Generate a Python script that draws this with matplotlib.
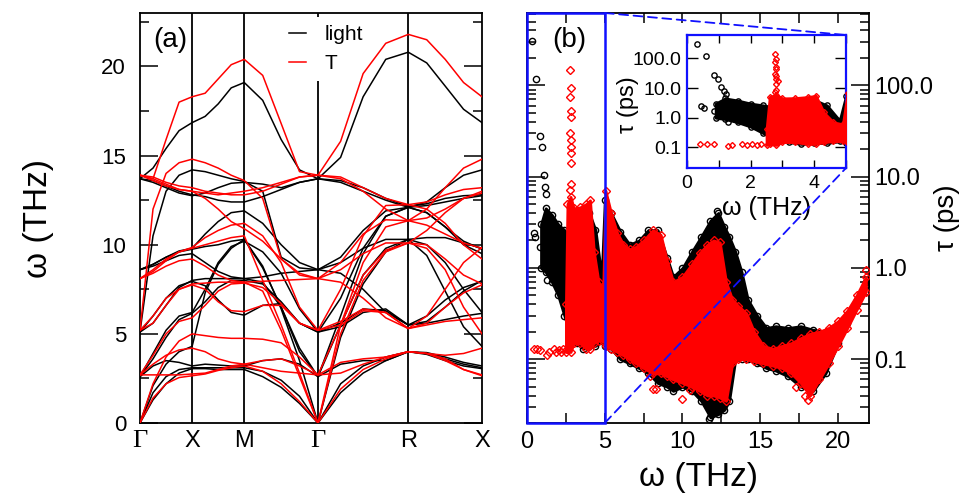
import matplotlib
matplotlib.use("Agg")
import matplotlib.pyplot as plt
from matplotlib.patches import Rectangle, ConnectionPatch
from matplotlib.ticker import MultipleLocator, FixedLocator, FixedFormatter, LogLocator, NullFormatter

plt.rcParams['font.family'] = ['Liberation Sans', 'DejaVu Sans']

# ---- panel (a): phonon dispersion along G-X-M-G-R-X ----
k_nodes = [0.0, 0.5, 1.0, 1.707, 2.573, 3.280]
k_labels = ['Γ', 'X', 'M', 'Γ', 'R', 'X']
k_path = [0.0, 0.125, 0.25, 0.375, 0.5,
          0.625, 0.75, 0.875, 1.0,
          1.177, 1.354, 1.530, 1.707,
          1.924, 2.140, 2.357, 2.573,
          2.750, 2.927, 3.103, 3.280]

bands_light = [
    [0.0, 1.3, 2.2, 2.8, 3.05, 3.05, 3.0, 3.0, 3.0, 2.6, 2.0, 1.1, 0.0, 1.7, 2.8, 3.5, 4.0, 3.85, 3.5, 3.2, 3.05],
    [0.0, 1.7, 2.6, 3.0, 3.1, 3.1, 3.1, 3.1, 3.1, 2.9, 2.4, 1.5, 0.0, 2.2, 3.2, 3.7, 4.0, 3.9, 3.6, 3.3, 3.1],
    [0.0, 2.1, 3.3, 4.0, 4.3, 7.3, 8.9, 9.8, 10.3, 8.8, 6.4, 3.5, 0.0, 4.8, 7.8, 9.6, 10.3, 9.4, 7.4, 5.4, 4.3],
    [2.6, 3.2, 3.5, 3.4, 3.2, 3.3, 3.25, 3.2, 3.2, 3.5, 3.6, 3.3, 2.6, 3.3, 3.5, 3.5, 4.0, 3.95, 3.7, 3.4, 3.2],
    [2.6, 3.6, 4.8, 5.8, 6.15, 6.8, 7.6, 8.0, 8.0, 7.8, 6.8, 5.6, 5.1, 5.6, 6.4, 6.3, 5.5, 5.6, 5.8, 6.0, 6.15],
    [2.6, 3.9, 5.2, 6.0, 6.2, 7.5, 9.0, 9.9, 10.2, 9.6, 8.4, 6.4, 5.1, 5.4, 6.2, 6.4, 5.5, 6.0, 6.9, 7.6, 7.95],
    [5.1, 6.0, 7.0, 7.7, 7.95, 7.7, 6.9, 6.2, 6.05, 6.6, 6.7, 5.6, 5.1, 7.0, 9.8, 11.6, 12.1, 11.8, 11.0, 10.0, 9.5],
    [5.1, 5.6, 6.6, 7.6, 8.0, 8.1, 8.1, 8.1, 8.1, 7.9, 6.5, 4.0, 2.6, 5.5, 8.3, 9.8, 10.3, 10.0, 9.0, 7.5, 6.2],
    [5.1, 10.5, 13.0, 13.9, 14.2, 14.1, 13.9, 13.7, 13.55, 13.0, 9.3, 8.7, 8.6, 9.3, 10.8, 11.9, 12.1, 12.4, 13.2, 13.9, 14.2],
    [8.6, 8.8, 9.1, 9.4, 9.5, 9.0, 8.5, 8.2, 8.1, 8.2, 8.4, 8.5, 8.6, 8.4, 7.5, 6.2, 5.5, 5.7, 6.5, 7.4, 8.0],
    [8.6, 8.9, 9.3, 9.6, 9.75, 9.9, 10.0, 10.2, 10.3, 8.7, 6.5, 4.2, 2.6, 6.0, 9.5, 11.6, 12.1, 11.8, 11.0, 10.2, 9.75],
    [8.6, 8.9, 9.3, 9.65, 9.8, 10.6, 11.3, 11.8, 11.9, 11.2, 10.0, 9.0, 8.6, 9.0, 9.8, 10.3, 10.3, 10.4, 10.4, 10.1, 9.8],
    [13.7, 13.5, 13.2, 12.9, 12.75, 12.9, 13.2, 13.45, 13.5, 13.4, 13.2, 13.5, 13.7, 13.5, 13.0, 12.5, 12.1, 12.2, 12.4, 12.6, 12.75],
    [13.7, 13.6, 13.3, 13.0, 12.8, 12.7, 12.5, 12.4, 12.4, 12.7, 13.1, 13.5, 13.7, 13.6, 13.2, 12.6, 12.15, 12.3, 12.6, 12.75, 12.8],
    [13.7, 14.3, 15.4, 16.4, 16.85, 17.2, 17.9, 18.8, 19.1, 18.1, 15.9, 14.2, 13.7, 14.9, 18.3, 20.4, 20.8, 20.2, 18.9, 17.6, 16.85],
]

bands_T = [
    [0.0, 1.4, 2.2, 2.55, 2.65, 2.75, 2.95, 3.1, 3.2, 2.9, 2.2, 1.2, 0.0, 1.9, 3.0, 3.6, 4.0, 3.9, 3.5, 3.0, 2.65],
    [2.7, 2.7, 2.7, 2.7, 2.75, 2.8, 3.0, 3.2, 3.3, 3.1, 2.9, 2.8, 2.7, 2.8, 3.3, 3.7, 4.0, 3.9, 3.6, 3.0, 2.7],
    [0.0, 2.2, 3.7, 4.6, 5.0, 4.9, 4.8, 4.75, 4.75, 4.7, 4.5, 3.7, 2.7, 5.5, 8.3, 9.7, 10.1, 9.8, 8.6, 6.5, 5.0],
    [2.7, 3.3, 3.8, 4.1, 4.2, 4.0, 3.6, 3.4, 3.3, 3.5, 3.6, 3.2, 2.7, 3.4, 3.6, 3.7, 4.0, 3.9, 3.8, 3.9, 4.2],
    [2.7, 3.8, 5.0, 5.7, 5.9, 6.6, 7.4, 7.8, 7.85, 7.6, 6.7, 5.6, 5.2, 5.7, 6.4, 6.2, 5.3, 5.5, 5.7, 5.8, 5.9],
    [5.2, 6.0, 7.0, 7.5, 7.75, 7.5, 6.8, 6.3, 6.25, 6.6, 6.6, 5.6, 5.2, 7.5, 10.5, 12.2, 12.25, 12.0, 11.2, 10.0, 9.2],
    [5.2, 5.6, 6.6, 7.5, 7.8, 7.85, 7.9, 7.9, 7.9, 7.4, 5.2, 2.6, 0.0, 5.0, 8.0, 9.6, 10.1, 10.0, 9.2, 8.3, 7.8],
    [5.2, 12.0, 14.0, 14.6, 14.8, 14.6, 14.3, 13.9, 13.6, 12.6, 9.2, 8.3, 8.1, 9.0, 10.6, 11.4, 11.35, 12.0, 13.2, 14.3, 14.8],
    [8.1, 8.4, 8.8, 9.1, 9.2, 8.8, 8.3, 8.0, 7.9, 7.95, 8.0, 8.05, 8.1, 7.9, 7.0, 5.9, 5.3, 5.6, 6.5, 7.3, 7.75],
    [8.1, 8.6, 9.2, 9.6, 9.8, 10.0, 10.2, 10.4, 10.5, 8.0, 5.5, 2.8, 0.0, 5.5, 9.0, 11.0, 11.35, 11.1, 10.6, 10.1, 9.8],
    [8.1, 8.5, 9.1, 9.6, 9.85, 10.4, 10.8, 11.1, 11.2, 10.5, 9.0, 6.5, 5.2, 5.5, 6.3, 6.2, 5.3, 6.0, 7.5, 9.0, 9.85],
    [13.9, 13.7, 13.4, 13.1, 13.0, 12.6, 12.0, 11.3, 10.9, 10.2, 9.2, 8.4, 8.1, 8.6, 9.5, 10.1, 10.1, 10.8, 11.8, 12.6, 13.0],
    [13.9, 13.8, 13.5, 13.3, 13.2, 13.0, 12.9, 12.8, 12.8, 13.0, 13.4, 13.8, 13.9, 13.8, 13.2, 12.6, 12.25, 12.4, 12.8, 13.1, 13.2],
    [13.9, 13.6, 13.3, 13.1, 13.0, 12.9, 12.8, 12.9, 13.0, 13.2, 13.5, 13.8, 13.9, 13.7, 13.0, 12.0, 11.35, 11.5, 12.0, 12.6, 12.9],
    [13.9, 13.7, 15.9, 18.0, 18.3, 18.5, 19.3, 20.1, 20.4, 19.5, 16.8, 14.1, 13.9, 15.8, 19.6, 21.3, 21.8, 21.5, 20.4, 19.1, 18.3],
]

# ---- panel (b): lifetimes, clouds given by lower/upper envelopes ----
blk_w = [0.9, 1.2, 1.6, 2.0, 2.4, 2.8, 3.2, 3.6, 4.0, 4.4, 4.8, 5.0, 5.4, 6.0, 6.6, 7.2, 7.8, 8.4,
         9.0, 9.4, 10.0, 10.6, 11.2, 11.8, 12.3, 12.7, 13.0, 13.4, 13.8, 14.2, 14.8, 15.4, 16.0,
         16.8, 17.6, 18.4, 19.2, 20.0, 20.6, 21.2, 21.8]
blk_hi = [3.0, 4.5, 3.8, 3.0, 2.6, 2.2, 1.8, 2.5, 4.0, 2.6, 0.8, 5.5, 4.0, 2.5, 1.8, 2.0, 2.6, 2.6,
          1.3, 0.8, 1.0, 1.5, 2.2, 3.3, 4.0, 2.8, 2.2, 1.5, 0.9, 0.45, 0.3, 0.22, 0.23,
          0.22, 0.23, 0.21, 0.2, 0.23, 0.3, 0.45, 0.7]
blk_lo = [1.0, 0.9, 0.7, 0.5, 0.3, 0.18, 0.15, 0.13, 0.14, 0.14, 0.16, 0.14, 0.13, 0.1, 0.09, 0.08, 0.07, 0.055,
          0.05, 0.045, 0.05, 0.045, 0.035, 0.023, 0.025, 0.028, 0.035, 0.1, 0.1, 0.1, 0.09, 0.08, 0.075,
          0.065, 0.05, 0.045, 0.07, 0.15, 0.25, 0.4, 0.65]

red_w = [2.5, 2.6, 2.8, 3.0, 3.4, 3.8, 4.05, 4.3, 4.6, 4.9, 5.05, 5.4, 5.8, 6.2, 6.6, 7.0, 7.5, 8.1,
         8.6, 9.0, 9.4, 10.0, 10.6, 11.1, 11.6, 12.0, 12.4, 12.8, 13.2, 13.6, 14.1, 14.6, 15.2,
         15.8, 16.4, 17.0, 17.6, 18.2, 18.8, 19.4, 20.0, 20.6, 21.2, 21.8]
red_hi = [0.4, 5.0, 6.0, 4.5, 4.6, 5.0, 5.5, 1.5, 0.7, 0.6, 7.0, 4.0, 2.4, 1.8, 1.6, 1.7, 2.0, 2.6,
          2.3, 1.2, 0.7, 0.8, 1.1, 1.45, 1.8, 2.0, 1.9, 0.7, 0.45, 0.38, 0.32, 0.2, 0.14,
          0.13, 0.14, 0.15, 0.17, 0.19, 0.2, 0.22, 0.26, 0.34, 0.5, 0.8]
red_lo = [0.12, 0.13, 0.12, 0.15, 0.15, 0.13, 0.13, 0.15, 0.16, 0.16, 0.14, 0.13, 0.12, 0.11, 0.1, 0.09, 0.08, 0.07,
          0.07, 0.065, 0.06, 0.055, 0.05, 0.045, 0.04, 0.04, 0.038, 0.035, 0.09, 0.1, 0.1, 0.095, 0.09,
          0.085, 0.08, 0.07, 0.055, 0.04, 0.06, 0.09, 0.14, 0.22, 0.35, 0.55]

# isolated points
blk_pts_w = [0.32, 0.6, 0.85, 0.96, 1.07, 1.17, 1.24, 0.43, 0.53, 0.85, 1.28, 12.2, 11.7]
blk_pts_t = [305, 118, 28, 21, 10.5, 7.7, 6.5, 2.4, 2.2, 1.7, 0.74, 4.2, 0.022]
red_pts_w = [2.78, 2.8, 2.78, 2.8, 2.8, 2.78, 2.8, 2.8, 2.85, 2.8, 2.8, 2.78,
             0.42, 0.62, 0.85, 1.3, 1.42, 1.72, 1.88, 2.05, 2.2, 2.32,
             7.9, 8.1, 8.3, 10.0, 10.5, 17.3, 17.9, 18.1, 21.8]
red_pts_t = [146, 94, 75, 53, 45, 30, 25, 21, 18, 14, 8.4, 7.1,
             0.13, 0.13, 0.125, 0.11, 0.12, 0.13, 0.12, 0.125, 0.12, 0.13,
             0.065, 0.047, 0.047, 0.037, 0.046, 0.05, 0.04, 0.036, 0.95]

tau_lim = (0.02, 620.0)
tau_ticks = [0.1, 1.0, 10.0, 100.0]
tau_ticklabels = ['0.1', '1.0', '10.0', '100.0']
zoom_w = 5.0
BLUE = '#1010ff'

fig = plt.figure(figsize=(9.64, 4.94), dpi=100)
ax_a = fig.add_axes([0.1452, 0.1437, 0.3548, 0.830])
ax_b = fig.add_axes([0.5467, 0.1437, 0.3548, 0.830])
ax_in = fig.add_axes([0.7127, 0.6599, 0.1649, 0.2692])

# ----- (a) -----
for k in k_nodes[1:-1]:
    ax_a.axvline(k, color='black', lw=1.3, zorder=1)
for i, band in enumerate(bands_light):
    ax_a.plot(k_path, band, color='black', lw=1.1, zorder=2, label='light' if i == 0 else None)
for i, band in enumerate(bands_T):
    ax_a.plot(k_path, band, color='red', lw=1.1, zorder=3, label='T' if i == 0 else None)

ax_a.set_xlim(k_nodes[0], k_nodes[-1])
ax_a.set_ylim(0, 23)
ax_a.set_xticks(k_nodes)
ax_a.set_xticklabels(k_labels, fontsize=17)
for lab in ax_a.get_xticklabels():
    if lab.get_text() == 'Γ':
        lab.set_fontfamily('Liberation Serif')
        lab.set_fontsize(19)
ax_a.tick_params(axis='x', length=0, pad=5)
ax_a.yaxis.set_major_locator(MultipleLocator(5))
ax_a.yaxis.set_minor_locator(MultipleLocator(2.5))
ax_a.tick_params(axis='y', which='both', direction='in', left=True, right=True, labelsize=16, pad=10, width=1.1)
ax_a.tick_params(axis='y', which='major', length=13)
ax_a.tick_params(axis='y', which='minor', length=6.5)
ax_a.set_ylabel('ω (THz)', fontsize=24, labelpad=34)
ax_a.text(0.038, 0.965, '(a)', transform=ax_a.transAxes, fontsize=20, va='top', ha='left')
leg = ax_a.legend(loc='upper left', bbox_to_anchor=(0.41, 0.99), borderaxespad=0, fontsize=15,
                  handlelength=0.85, handletextpad=0.9, labelspacing=0.45, borderpad=0.4,
                  frameon=True, fancybox=False)
leg.get_frame().set_edgecolor('none')
leg.get_frame().set_facecolor('white')
leg.get_frame().set_alpha(1.0)
leg.set_zorder(1.5)  # hides the Gamma line, but not the bands
for sp in ax_a.spines.values():
    sp.set_linewidth(1.3)


def draw_lifetimes(ax, ms_c, ms_d):
    ax.fill_between(blk_w, blk_lo, blk_hi, facecolor='black', edgecolor='black', lw=2.0, zorder=2)
    ax.plot(blk_w, blk_hi, 'o', mfc='none', mec='black', ms=ms_c, mew=1.0, ls='none', zorder=2)
    ax.plot(blk_w, blk_lo, 'o', mfc='none', mec='black', ms=ms_c, mew=1.0, ls='none', zorder=2)
    ax.plot(blk_pts_w, blk_pts_t, 'o', mfc='none', mec='black', ms=ms_c, mew=1.0, ls='none', zorder=2)
    ax.fill_between(red_w, red_lo, red_hi, facecolor='red', edgecolor='red', lw=2.0, zorder=3)
    ax.plot(red_w, red_hi, 'D', mfc='none', mec='red', ms=ms_d, mew=1.0, ls='none', zorder=3)
    ax.plot(red_w, red_lo, 'D', mfc='none', mec='red', ms=ms_d, mew=1.0, ls='none', zorder=3)
    ax.plot(red_pts_w, red_pts_t, 'D', mfc='none', mec='red', ms=ms_d, mew=1.0, ls='none', zorder=3)


# ----- (b) -----
draw_lifetimes(ax_b, 4.5, 3.6)
ax_b.set_yscale('log')
ax_b.set_xlim(0, 22)
ax_b.set_ylim(*tau_lim)
ax_b.xaxis.set_major_locator(MultipleLocator(5))
ax_b.xaxis.set_minor_locator(MultipleLocator(2.5))
ax_b.yaxis.set_major_locator(FixedLocator(tau_ticks))
ax_b.yaxis.set_major_formatter(FixedFormatter(tau_ticklabels))
ax_b.yaxis.set_minor_locator(LogLocator(base=10, subs=range(2, 10)))
ax_b.yaxis.set_minor_formatter(NullFormatter())
ax_b.tick_params(which='both', direction='in', top=True, bottom=True, left=True, right=True,
                 labelleft=False, labelright=True, labelsize=17, width=1.1)
ax_b.tick_params(axis='y', which='major', length=13, pad=4)
ax_b.tick_params(axis='y', which='minor', length=6.5)
ax_b.tick_params(axis='x', which='both', length=7, pad=6)
ax_b.yaxis.set_label_position('right')
ax_b.set_ylabel('τ (ps)', fontsize=20, labelpad=0)
ax_b.set_xlabel('ω (THz)', fontsize=24, labelpad=6)
ax_b.text(0.073, 0.965, '(b)', transform=ax_b.transAxes, fontsize=20, va='top', ha='left')
for sp in ax_b.spines.values():
    sp.set_linewidth(1.3)
ax_b.add_patch(Rectangle((0, tau_lim[0]), zoom_w, tau_lim[1] - tau_lim[0], fill=False,
                         edgecolor=BLUE, lw=1.8, clip_on=False, zorder=6))

# ----- inset -----
draw_lifetimes(ax_in, 3.8, 3.0)
ax_in.set_yscale('log')
ax_in.set_xlim(0, zoom_w)
ax_in.set_ylim(*tau_lim)
ax_in.xaxis.set_major_locator(MultipleLocator(2))
ax_in.xaxis.set_minor_locator(MultipleLocator(1))
ax_in.yaxis.set_major_locator(FixedLocator(tau_ticks))
ax_in.yaxis.set_major_formatter(FixedFormatter(tau_ticklabels))
ax_in.yaxis.set_minor_locator(LogLocator(base=10, subs=range(2, 10)))
ax_in.yaxis.set_minor_formatter(NullFormatter())
ax_in.tick_params(which='both', direction='in', top=True, bottom=True, left=True, right=True,
                  labelsize=14, width=1.0)
ax_in.tick_params(axis='y', which='major', length=8, pad=4)
ax_in.tick_params(axis='y', which='minor', length=5)
ax_in.tick_params(axis='x', which='both', length=6, pad=5)
ax_in.set_ylabel('τ (ps)', fontsize=17, labelpad=0)
ax_in.yaxis.set_label_coords(-0.30, 0.48)
ax_in.set_xlabel('ω (THz)', fontsize=18, labelpad=3)
for sp in ax_in.spines.values():
    sp.set_edgecolor(BLUE)
    sp.set_linewidth(1.6)

for yA, yB in [(tau_lim[1], 1.0), (tau_lim[0], 0.0)]:
    con = ConnectionPatch(xyA=(zoom_w, yA), coordsA=ax_b.transData,
                          xyB=(1.0, yB), coordsB=ax_in.transAxes,
                          color=BLUE, lw=1.3, ls=(0, (5, 3)))
    fig.add_artist(con)

fig.savefig('out.png', dpi=100)
